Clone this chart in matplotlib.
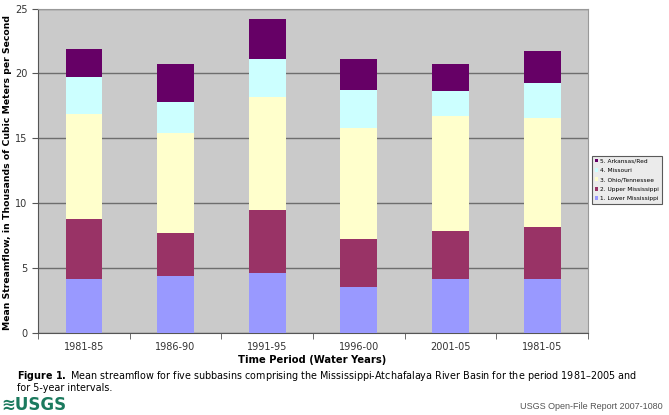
import numpy as np
import matplotlib.pyplot as plt
from matplotlib.patches import Patch

# data (thousands of m3/s)
periods = ["1981-85", "1986-90", "1991-95", "1996-00", "2001-05", "1981-05"]
lower_miss = [4.12, 4.39, 4.63, 3.55, 4.14, 4.14]
upper_miss = [4.62, 3.27, 4.81, 3.70, 3.68, 4.03]
ohio_tenn = [8.10, 7.71, 8.71, 8.51, 8.89, 8.41]
missouri = [2.90, 2.44, 2.98, 2.98, 1.90, 2.65]
arkansas_red = [2.16, 2.91, 3.03, 2.36, 2.11, 2.49]

names = ["1. Lower Mississippi", "2. Upper Mississippi", "3. Ohio/Tennessee",
         "4. Missouri", "5. Arkansas/Red"]
series = [lower_miss, upper_miss, ohio_tenn, missouri, arkansas_red]
cols = ["#9999ff", "#993366", "#ffffcc", "#ccffff", "#660066"]

fig = plt.figure(figsize=(6.69, 4.15), dpi=100)
ax = fig.add_axes([38/669, 1-332.7/415, 550/669, (332.7-8.6)/415])
ax.set_facecolor("#cacaca")

x = np.arange(len(periods))
bottom = np.zeros(len(periods))
for vals, c in zip(series, cols):
    ax.bar(x, vals, 0.4, bottom=bottom, color=c, zorder=3)
    bottom += np.array(vals)

ax.set_xlim(-0.5, len(periods)-0.5)
ax.set_ylim(0, 25)
ax.set_yticks([0, 5, 10, 15, 20, 25])
ax.yaxis.grid(True, color="#6e6e6e", lw=1, zorder=1)
ax.set_xticks(x)
ax.set_xticklabels(periods)
ax.set_xticks(np.arange(-0.5, len(periods)), minor=True)
ax.tick_params(axis="x", which="major", length=0, pad=7, labelsize=7, labelcolor="#333333")
ax.tick_params(axis="x", which="minor", length=4, color="#555555")
ax.tick_params(axis="y", length=4, labelsize=7, labelcolor="#333333", color="#555555")
for s in ["top", "right"]:
    ax.spines[s].set_color("#999999")
for s in ["left", "bottom"]:
    ax.spines[s].set_color("#555555")

fig.text(8/669, 1-172/415, "Mean Streamflow, in Thousands of Cubic Meters per Second",
         rotation=90, ha="center", va="center", fontsize=6.7, fontweight="bold")
fig.text(312/669, 1-360/415, "Time Period (Water Years)", ha="center", va="center",
         fontsize=7.2, fontweight="bold")

handles = [Patch(facecolor=c, edgecolor="none") for c in cols][::-1]
leg = fig.legend(handles, names[::-1], loc="upper left",
                 bbox_to_anchor=(592/669, 1-156/415), fontsize=4.2,
                 frameon=True, fancybox=False, handlelength=0.6, handleheight=0.6,
                 handletextpad=0.4, labelspacing=0.75, borderpad=0.45,
                 borderaxespad=0)
leg.get_frame().set_edgecolor("#333333")
leg.get_frame().set_linewidth(0.8)
leg.get_frame().set_facecolor("#e6e6e6")

fig.text(17/669, 1-376/415, r"$\bf{Figure\ 1.}$ Mean streamflow for five subbasins comprising the "
         "Mississippi-Atchafalaya River Basin for the period 1981\u20132005 and",
         ha="left", va="center", fontsize=6.9)
fig.text(17/669, 1-388/415, "for 5-year intervals.", ha="left", va="center", fontsize=6.9)

fig.text(1/669, 1-405/415, "\u224bUSGS", ha="left", va="center", fontsize=12,
         fontweight="bold", color="#1b7a5e", family="DejaVu Sans Condensed")
fig.text(663/669, 1-406/415, "USGS Open-File Report 2007-1080", ha="right", va="center",
         fontsize=6.5, color="#555555", family="Liberation Sans")

fig.savefig("out.png", dpi=100)
